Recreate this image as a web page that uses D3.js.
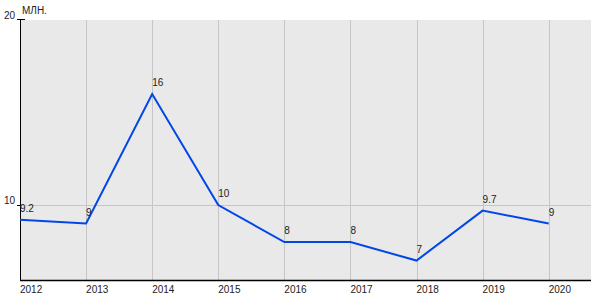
<!DOCTYPE html>
<html>
<head>
<meta charset="utf-8">
<script src="https://cdn.jsdelivr.net/npm/d3@7"></script>
<style>
  body { margin: 0; background: #fff; }
  text { font-family: Arial, "Liberation Sans", sans-serif; }
</style>
</head>
<body>
<div id="chart"></div>
<script>
const years = [2012, 2013, 2014, 2015, 2016, 2017, 2018, 2019, 2020];
const values = [9.2, 9, 16, 10, 8, 8, 7, 9.7, 9];
const valueLabels = ["9.2", "9", "16", "10", "8", "8", "7", "9.7", "9"];
const yTicks = [10, 20];
const unitLabel = "МЛН.";

const width = 600, height = 300;
const plotLeft = 20, plotRight = 591, plotTop = 20, plotBottom = 280;

const svg = d3.select("#chart").append("svg")
  .attr("width", width)
  .attr("height", height);

const x = d3.scaleLinear().domain([2012, 2020.64]).range([plotLeft, plotRight]);
const y = d3.scaleLinear().domain([5.95, 20]).range([plotBottom, plotTop]);

// plot background
svg.append("rect")
  .attr("x", plotLeft).attr("y", plotTop)
  .attr("width", plotRight - plotLeft).attr("height", plotBottom - plotTop)
  .attr("fill", "#e9e9e9");

// grid
svg.append("g").selectAll("line")
  .data(years.slice(1))
  .enter().append("line")
  .attr("x1", d => Math.round(x(d)) + 0.5).attr("x2", d => Math.round(x(d)) + 0.5)
  .attr("y1", plotTop).attr("y2", plotBottom)
  .attr("stroke", "#c6c6c6");

svg.append("g").selectAll("line")
  .data(yTicks.filter(d => d < 20))
  .enter().append("line")
  .attr("x1", plotLeft).attr("x2", plotRight)
  .attr("y1", d => Math.round(y(d)) + 0.5).attr("y2", d => Math.round(y(d)) + 0.5)
  .attr("stroke", "#c6c6c6");

// axes
svg.append("line")
  .attr("x1", plotLeft + 0.5).attr("x2", plotLeft + 0.5)
  .attr("y1", plotTop).attr("y2", plotBottom)
  .attr("stroke", "#000");
svg.append("line")
  .attr("x1", plotLeft).attr("x2", plotRight)
  .attr("y1", plotBottom + 0.5).attr("y2", plotBottom + 0.5)
  .attr("stroke", "#000").attr("stroke-width", 1.5);

// y ticks
const yt = svg.append("g").selectAll("g")
  .data(yTicks)
  .enter().append("g")
  .attr("transform", d => `translate(0,${Math.round(y(d)) + 0.5})`);
yt.append("line")
  .attr("x1", plotLeft - 3).attr("x2", d => d === 20 ? plotLeft + 5 : plotLeft)
  .attr("stroke", "#000")
  .attr("transform", d => d === 20 ? "translate(0,-1)" : null);
yt.append("text")
  .attr("x", plotLeft - 5).attr("y", -2)
  .attr("text-anchor", "end")
  .attr("font-size", 10)
  .attr("fill", "#222")
  .text(d => d);

svg.append("text")
  .attr("x", plotLeft + 2).attr("y", 14)
  .attr("font-size", 10)
  .attr("fill", "#222")
  .text(unitLabel);

// x labels
svg.append("g").selectAll("text")
  .data(years)
  .enter().append("text")
  .attr("x", d => x(d))
  .attr("y", 293)
  .attr("font-size", 10)
  .attr("fill", "#222")
  .text(d => d);

// line
const pts = years.map((yr, i) => [yr, values[i]]);
svg.append("path")
  .datum(pts)
  .attr("fill", "none")
  .attr("stroke", "#0047e8")
  .attr("stroke-width", 2)
  .attr("d", d3.line().x(d => x(d[0])).y(d => y(d[1])));

// value labels
svg.append("g").selectAll("text")
  .data(pts)
  .enter().append("text")
  .attr("x", d => x(d[0]))
  .attr("y", d => y(d[1]) - 8)
  .attr("font-size", 10)
  .attr("fill", "#222")
  .text((d, i) => valueLabels[i]);
</script>
</body>
</html>
